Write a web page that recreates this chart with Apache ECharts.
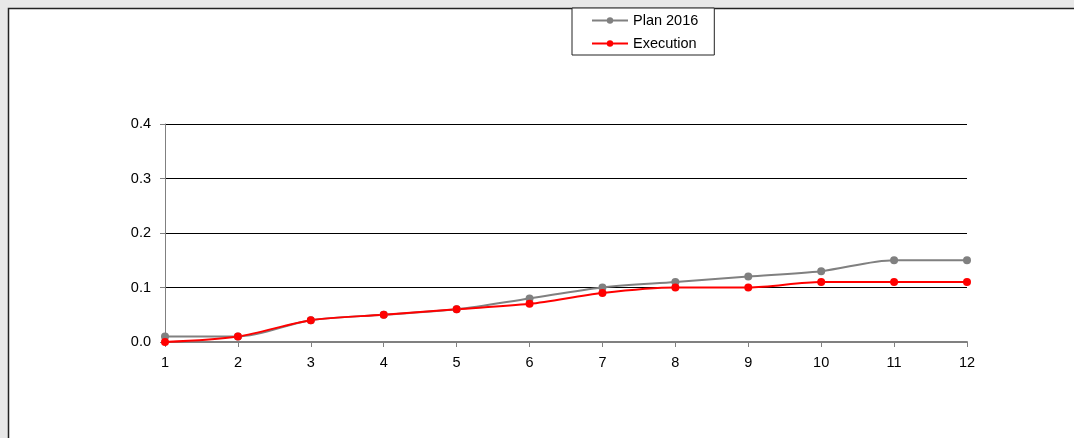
<!DOCTYPE html>
<html><head><meta charset="utf-8">
<script src="https://cdn.jsdelivr.net/npm/echarts@6/dist/echarts.min.js"></script>
<style>html,body{margin:0;padding:0;background:#e8e8e8;}#c{width:1074px;height:438px;}</style>
</head><body><div id="c"></div>
<script>
const categories = ['1','2','3','4','5','6','7','8','9','10','11','12'];
const plan2016 = [0.01,0.01,0.04,0.05,0.06,0.08,0.10,0.11,0.12,0.13,0.15,0.15];
const execution = [0.00,0.01,0.04,0.05,0.06,0.07,0.09,0.10,0.10,0.11,0.11,0.11];
const yTicks = ['0.0','0.1','0.2','0.3','0.4'];

const chart = echarts.init(document.getElementById('c'));
const font = 'Liberation Sans, Arial, sans-serif';
chart.setOption({
  animation:false,
  backgroundColor:'#e8e8e8',
  graphic:[{type:'rect',shape:{x:8.5,y:8.5,width:1100,height:500},style:{fill:'#fff',stroke:'#222',lineWidth:1.5},z:-10}],
  legend:{
    orient:'vertical',left:572,top:8,
    padding:[5,16,4,19],
    borderColor:'#222',borderWidth:1,backgroundColor:'#fff',
    itemWidth:36,itemHeight:8,itemGap:8,
    textStyle:{fontFamily:font,fontSize:14.5,color:'#000'},
    data:['Plan 2016','Execution']
  },
  grid:{left:165,right:107,top:124,bottom:96},
  xAxis:{
    type:'category',data:categories,boundaryGap:false,
    axisLine:{lineStyle:{color:'#808080',width:2}},
    axisTick:{show:true,length:5,lineStyle:{color:'#808080'}},
    axisLabel:{fontFamily:font,fontSize:14.5,color:'#000',margin:13},
    splitLine:{show:false}
  },
  yAxis:{
    type:'value',min:0,max:0.4,interval:0.1,
    axisLine:{show:true,lineStyle:{color:'#808080',width:1}},
    axisTick:{show:true,length:5,lineStyle:{color:'#808080'}},
    axisLabel:{fontFamily:font,fontSize:14.5,color:'#000',margin:14,formatter:(v)=>yTicks[Math.round(v*10)]},
    splitLine:{show:true,lineStyle:{color:'#000',width:1}}
  },
  series:[
    {name:'Plan 2016',type:'line',data:plan2016,smooth:0.3,symbol:'circle',symbolSize:8,
     itemStyle:{color:'#808080'},lineStyle:{color:'#808080',width:2}},
    {name:'Execution',type:'line',data:execution,smooth:0.3,symbol:'circle',symbolSize:8,
     itemStyle:{color:'#ff0000'},lineStyle:{color:'#ff0000',width:2}}
  ]
});
</script></body></html>
